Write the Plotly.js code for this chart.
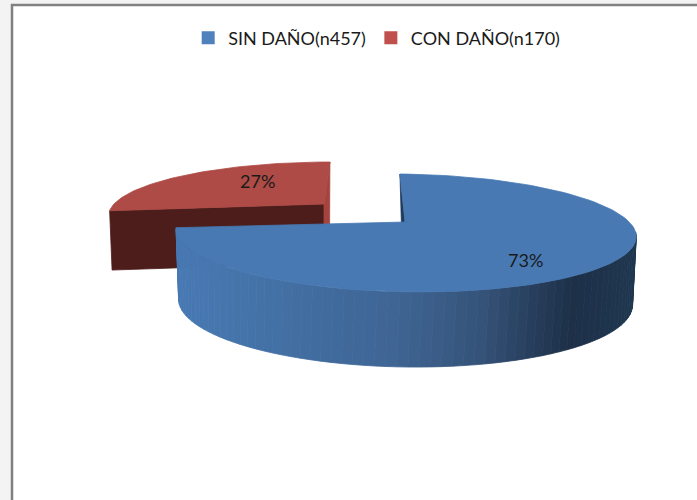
<!DOCTYPE html>
<html>
<head>
<meta charset="utf-8">
<script src="https://cdn.plot.ly/plotly-3.0.1.min.js"></script>
<style>html,body{margin:0;padding:0;background:#f3f3f3}</style>
</head>
<body>
<div id="chart" style="width:697px;height:500px"></div>
<script>
// ---- data ----
const categories = ["SIN DAÑO(n457)", "CON DAÑO(n170)"];
const counts = [457, 170];
const percentLabels = ["73%", "27%"];
const colors = ["#4f81bd", "#c0504d"];

// ---- style / projection of the tilted disc ----
const TOTAL = counts[0] + counts[1];
const FRAC = counts.map(v => v / TOTAL);
const P = 0.186;
const FONT = "Lato, 'Open Sans', sans-serif";
const blueTop = {x0:405, y0:222, A:56.9, B:226, sx:-6, t:2};
const blueBot = {x0:405, y0:290, A:62.7, B:223, sx:-3, t:2};
const redTop  = {x0:324, y0:204, A:49.8, B:210, sx:7,  t:0};
const redBot  = {x0:324, y0:263, A:52,   B:208, sx:4,  t:0};
const gradient = [[182,[72,121,179]],[250,[68,115,169]],[400,[62,100,146]],[480,[53,83,121]],[570,[29,48,72]],[640,[31,56,80]]];

function proj(g, f) {
  const th = 2 * Math.PI * f, w = 1 + P * Math.cos(th);
  return [g.x0 + (g.B * Math.sin(th) + g.sx * Math.cos(th)) / w,
          g.y0 + (-g.A * Math.cos(th) + g.t * Math.sin(th)) / w];
}
function arc(g, f0, f1, n) {
  const out = [];
  for (let i = 0; i <= n; i++) out.push(proj(g, f0 + (f1 - f0) * i / n));
  return out;
}
function gradColor(x) {
  for (let i = 1; i < gradient.length; i++) {
    if (x <= gradient[i][0]) {
      const [a, ca] = gradient[i - 1], [b, cb] = gradient[i];
      const u = Math.max(0, (x - a) / (b - a));
      return "rgb(" + ca.map((c, k) => Math.round(c + (cb[k] - c) * u)).join(",") + ")";
    }
  }
  return "rgb(31,56,80)";
}
function poly(pts, fill) {
  return {type:"scatter", mode:"lines", x:pts.map(p=>p[0]).concat(pts[0][0]), y:pts.map(p=>p[1]).concat(pts[0][1]),
    fill:"toself", fillcolor:fill, line:{color:fill, width:0.8}, showlegend:false, hoverinfo:"skip"};
}

const traces = [];
const split = FRAC[0];

// red slice (second category), from end of first slice to the full turn
const redLeftTop = proj(redTop, split), redRightTop = proj(redTop, 1);
const redLeftBot = proj(redBot, split);
const redApex = [redTop.x0, redTop.y0], redApexBot = [redBot.x0, redBot.y0];
traces.push(poly([redLeftTop, redApex, redApexBot, redLeftBot], "#4c1d1b"));
traces.push(poly([redApex, redRightTop, [redRightTop[0]-0.5, redApexBot[1]], redApexBot], "#a5443f"));
traces.push(poly([redApex].concat(arc(redTop, split, 1, 60)), "#ae4b46"));

// blue slice: inner wall, outer gradient side, top face
const blueStart = proj(blueTop, 0), apex = [blueTop.x0, blueTop.y0];
traces.push(poly([blueStart, apex, [apex[0], apex[1] + 20], [blueStart[0] + 2, apex[1] + 20]], "#1f3a5c"));
const N = 70, fs = 0.272, fe = split;
for (let i = 0; i < N; i++) {
  const a = fs + (fe - fs) * i / N, b = fs + (fe - fs) * (i + 1) / N;
  const q = [proj(blueTop, a), proj(blueTop, b), proj(blueBot, b), proj(blueBot, a)];
  traces.push(poly(q, gradColor((q[0][0] + q[1][0] + q[2][0] + q[3][0]) / 4)));
}
traces.push(poly([apex].concat(arc(blueTop, 0, split, 120)), "#4879b3"));

// legend entries
categories.forEach((c, i) => traces.push({type:"scatter", mode:"markers", x:[null], y:[null], name:c,
  marker:{symbol:"square", size:13, color:colors[i]}, hoverinfo:"skip"}));

const layout = {
  width:697, height:500,
  margin:{l:0, r:0, t:0, b:0},
  paper_bgcolor:"#f3f3f3", plot_bgcolor:"rgba(0,0,0,0)",
  xaxis:{range:[0,697], visible:false, fixedrange:true},
  yaxis:{range:[500,0], visible:false, fixedrange:true},
  showlegend:true,
  legend:{orientation:"h", x:0.27, xanchor:"left", y:0.924, yanchor:"middle", bgcolor:"rgba(0,0,0,0)",
    font:{family:FONT, size:18, color:"#1a1a1a"}, itemclick:false, itemdoubleclick:false, itemwidth:30},
  shapes:[{type:"rect", xref:"x", yref:"y", x0:12, y0:5, x1:720, y1:520, fillcolor:"#ffffff",
    line:{color:"#808080", width:2.5}, layer:"below"}],
  annotations:[
    {x:525, y:260, xref:"x", yref:"y", text:percentLabels[0], showarrow:false, font:{family:FONT, size:18, color:"#1a1a1a"}},
    {x:257, y:181, xref:"x", yref:"y", text:percentLabels[1], showarrow:false, font:{family:FONT, size:18, color:"#1a1a1a"}}
  ]
};
Plotly.newPlot("chart", traces, layout, {displayModeBar:false, staticPlot:true});
</script>
</body>
</html>
